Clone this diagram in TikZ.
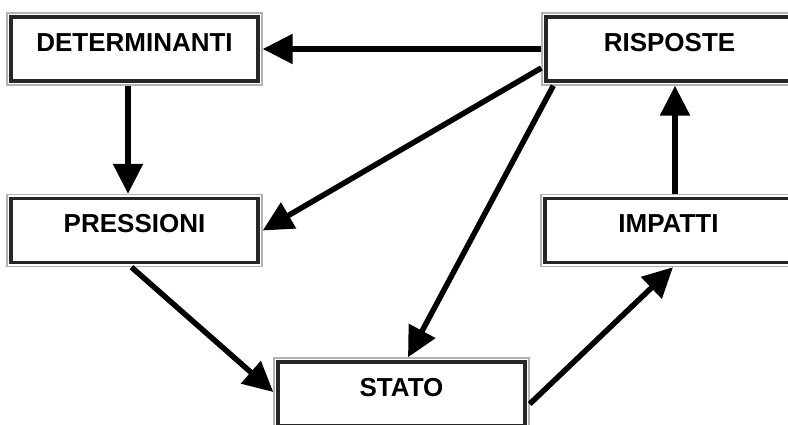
\documentclass[tikz,border=0pt]{standalone}
\usepackage{fontspec}
\setmainfont{Liberation Sans}
\usepackage{tikz}
\usetikzlibrary{arrows.meta, positioning, calc}

\tikzset{
    dpsirbox/.style={rectangle, draw=gray!60, line width=1.4pt, fill=white,
        minimum width=255pt, inner xsep=0pt, inner ysep=19.5pt,
        text height=18.6pt, text depth=14.4pt,
        font=\fontsize{26}{30}\selectfont\bfseries,
        path picture={\draw[line width=3.5pt, black!85]
            ([shift={(4pt,-4pt)}]path picture bounding box.north west) rectangle
            ([shift={(-4pt,4pt)}]path picture bounding box.south east);}},
    dpsirarrow/.style={line width=5.5pt, -{Triangle[length=30pt, width=29pt]}}
}

\begin{document}
\begin{tikzpicture}[x=1pt, y=-1pt]
\useasboundingbox (0,0) rectangle (788,425);
\clip (0,0) rectangle (788,425);

% Boxes
\node[dpsirbox] (det) at (134.5,49) {DETERMINANTI};
\node[dpsirbox] (risp) at (669.5,49) {RISPOSTE};
\node[dpsirbox] (press) at (134.5,230.5) {PRESSIONI};
\node[dpsirbox] (imp) at (668.5,230.5) {IMPATTI};
\node[dpsirbox] (stato) at (401.5,394) {STATO};

% Arrows
\draw[dpsirarrow] (risp.west) -- (det.east);
\draw[dpsirarrow] ([yshift=-19pt]risp.west) -- (press.east);
\draw[dpsirarrow] ([xshift=12pt]risp.south west) -- ([xshift=6.5pt]stato.north);
\draw[dpsirarrow] ([xshift=-6.5pt]det.south) -- ([xshift=-6.5pt]press.north);
\draw[dpsirarrow] ([xshift=-3pt]press.south) -- ([yshift=2pt]stato.west);
\draw[dpsirarrow] ([yshift=-10pt]stato.east) -- ([xshift=4.5pt]imp.south);
\draw[dpsirarrow] ([xshift=6.5pt]imp.north) -- ([xshift=5.5pt]risp.south);
\end{tikzpicture}
\end{document}
